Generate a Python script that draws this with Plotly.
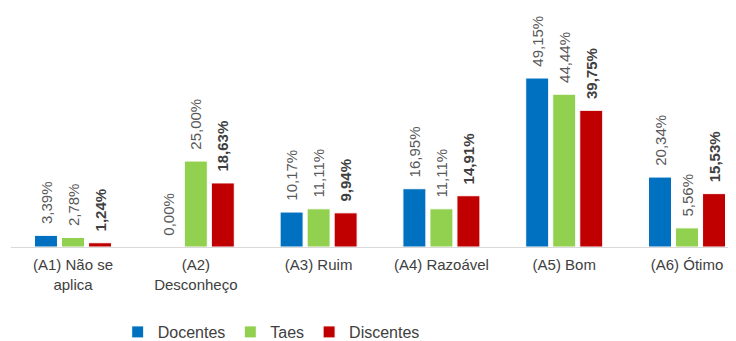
import plotly.graph_objects as go

categories = ["(A1) Não se<br>aplica", "(A2)<br>Desconheço", "(A3) Ruim",
              "(A4) Razoável", "(A5) Bom", "(A6) Ótimo"]
docentes = [3.39, 0.00, 10.17, 16.95, 49.15, 20.34]
taes = [2.78, 25.00, 11.11, 11.11, 44.44, 5.56]
discentes = [1.24, 18.63, 9.94, 14.91, 39.75, 15.53]

series = [
    ("Docentes", docentes, "#0070C0", False),
    ("Taes", taes, "#92D050", False),
    ("Discentes", discentes, "#C00000", True),
]

def fmt(v, bold):
    s = f"{v:.2f}".replace(".", ",") + "%"
    s = "\u00a0\u00a0" + s
    return f"<b>{s}</b>" if bold else s

fig = go.Figure()
for name, vals, color, bold in series:
    fig.add_trace(go.Bar(
        name=name, x=categories, y=vals,
        marker=dict(color=color, line=dict(color="white", width=1)),
        text=[fmt(v, bold) for v in vals],
        textposition="outside", textangle=-90, constraintext="none",
        cliponaxis=False,
        textfont=dict(family="Liberation Sans, Arial", size=15,
                      color="#404040" if bold else "#595959"),
        hoverinfo="skip",
    ))

fig.update_layout(
    width=736, height=341,
    margin=dict(l=3, r=0, t=20, b=99),
    paper_bgcolor="white", plot_bgcolor="white",
    barmode="group", bargap=0.34, bargroupgap=0.15,
    font=dict(family="Liberation Sans, Arial", color="#404040"),
    xaxis=dict(showline=True, linecolor="#D9D9D9", linewidth=1,
               range=[-0.505, 5.464],
               ticks="", tickfont=dict(size=15, color="#404040"),
               ticklabelstandoff=4, showgrid=False),
    yaxis=dict(range=[0, 63.7], visible=False, showgrid=False, zeroline=False),
    legend=dict(orientation="h", x=0.355, xanchor="center", y=-0.39,
                yanchor="middle", font=dict(size=16, color="#404040"),
                traceorder="normal", itemwidth=30),
    showlegend=True,
)

fig.write_html("out.html")
